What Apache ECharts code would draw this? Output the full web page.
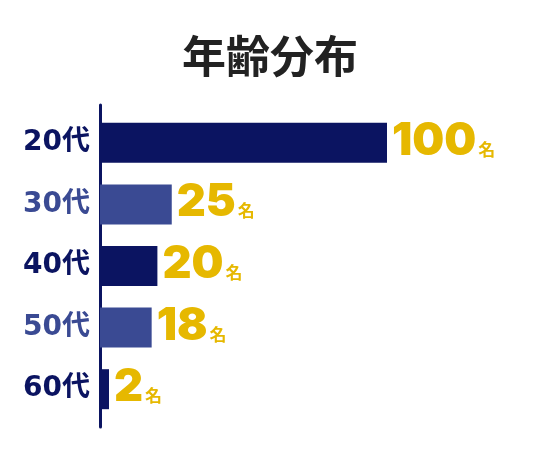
<!DOCTYPE html>
<html><head><meta charset="utf-8">
<script src="https://cdn.jsdelivr.net/npm/echarts@6/dist/echarts.min.js"></script>
<style>html,body{margin:0;padding:0;background:#fff}#c{width:540px;height:460px}</style>
</head><body><div id="c"></div>
<script>
const titleText = '年齢分布';
const categories = ['20代', '30代', '40代', '50代', '60代'];
const values = [100, 25, 20, 18, 2];
const unitText = '名';
const DARK = '#0b1461', LIGHT = '#3a4a93', GOLD = '#e6b800';
const colorFor = i => (i % 2 === 0 ? DARK : LIGHT);

const chart = echarts.init(document.getElementById('c'));
chart.setOption({
  backgroundColor: '#fff',
  animation: false,
  title: {
    text: titleText, left: 'center', top: 29,
    textStyle: { fontSize: 44, fontWeight: 'bold', color: '#222', fontFamily: 'Noto Sans CJK JP' }
  },
  grid: [
    { left: 100, right: 153, top: 112, bottom: 40 },
    { left: 100, right: 153, top: 105, bottom: 33 }
  ],
  xAxis: [
    { gridIndex: 0, type: 'value', min: 0, max: 100, show: false },
    { gridIndex: 1, type: 'value', min: 0, max: 100, show: false }
  ],
  yAxis: [
    {
      gridIndex: 0, type: 'category', inverse: true, data: categories,
      axisLine: { show: false }, axisTick: { show: false },
      axisLabel: {
        margin: 10,
        fontSize: 28, fontWeight: 'bold', fontFamily: 'DejaVu Sans, Noto Sans CJK JP',
        color: (v, i) => colorFor(categories.indexOf(v))
      }
    },
    {
      gridIndex: 1, type: 'category', inverse: true, data: categories,
      axisLine: { show: true, lineStyle: { color: DARK, width: 3 } },
      axisTick: { show: false }, axisLabel: { show: false }, splitLine: { show: false }
    }
  ],
  series: [{
    type: 'bar', xAxisIndex: 0, yAxisIndex: 0, barWidth: 40, barMinHeight: 9,
    data: values.map((v, i) => ({ value: v, itemStyle: { color: colorFor(i) } })),
    label: {
      show: true, position: 'right', distance: 5, offset: [0, -4],
      formatter: p => '{n|' + p.value + '}{u|' + unitText + '}',
      rich: {
        n: { fontSize: 45, fontWeight: 900, color: GOLD, fontFamily: 'Inter', verticalAlign: 'bottom', lineHeight: 50 },
        u: { fontSize: 17, fontWeight: 'bold', color: GOLD, fontFamily: 'Noto Sans CJK JP', verticalAlign: 'bottom', lineHeight: 26, padding: [0, 0, 6, 2] }
      }
    }
  }]
});
</script></body></html>
